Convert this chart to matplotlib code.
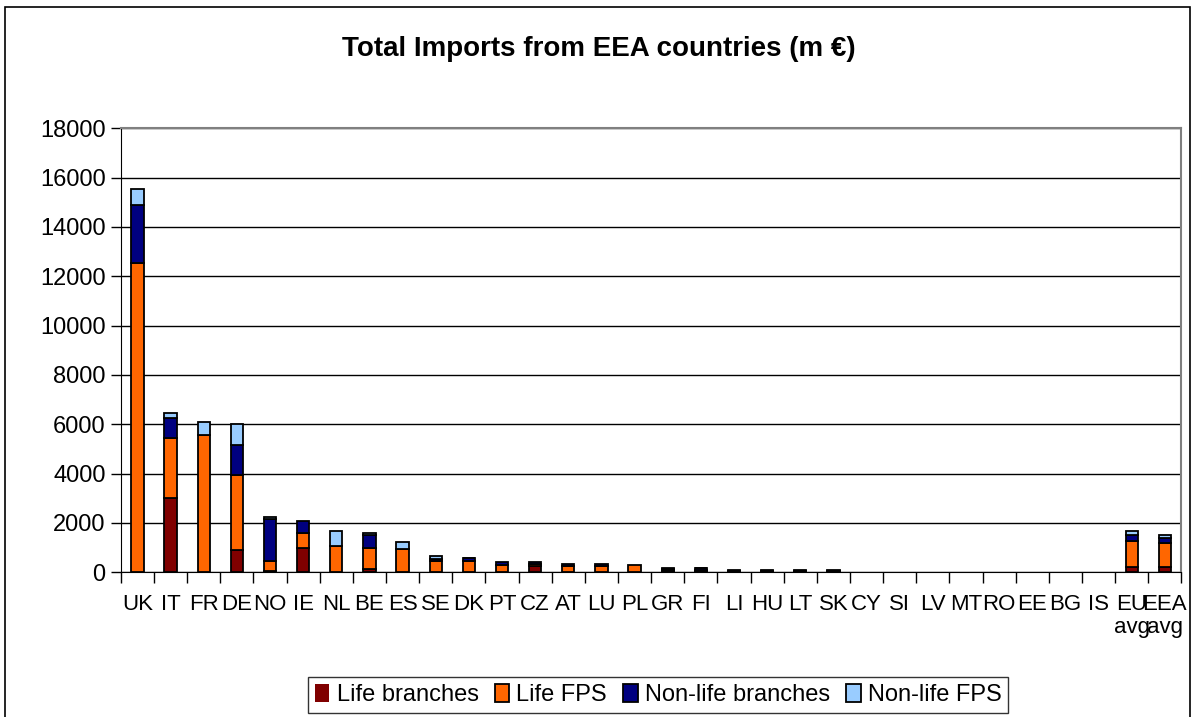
import numpy as np
import matplotlib.pyplot as plt
from matplotlib.patches import Rectangle

plt.rcParams['font.family'] = ['Liberation Sans', 'DejaVu Sans']

countries = ['UK', 'IT', 'FR', 'DE', 'NO', 'IE', 'NL', 'BE', 'ES', 'SE', 'DK', 'PT', 'CZ', 'AT',
             'LU', 'PL', 'GR', 'FI', 'LI', 'HU', 'LT', 'SK', 'CY', 'SI', 'LV', 'MT', 'RO', 'EE',
             'BG', 'IS', 'EU\navg', 'EEA\navg']

life_branches = [0, 3000, 0, 900, 50, 1000, 0, 130, 0, 0, 0, 0, 250, 0,
                 0, 0, 40, 40, 20, 20, 20, 20, 0, 0, 0, 0, 0, 0, 0, 0, 200, 200]
life_fps = [12550, 2450, 5550, 3050, 400, 570, 1050, 850, 930, 470, 470, 310, 80, 250,
            250, 300, 40, 60, 20, 20, 20, 20, 0, 0, 0, 0, 0, 0, 0, 0, 1050, 1000]
nonlife_branches = [2350, 800, 0, 1200, 1700, 510, 0, 520, 0, 50, 100, 100, 80, 100,
                    100, 0, 60, 60, 20, 20, 20, 20, 0, 0, 0, 0, 0, 0, 0, 0, 250, 200]
nonlife_fps = [650, 200, 550, 850, 80, 0, 600, 80, 300, 130, 10, 0, 0, 0,
               0, 0, 10, 15, 10, 10, 10, 10, 0, 0, 0, 0, 0, 0, 0, 0, 150, 120]

series = [('Life branches', life_branches, '#800000'),
          ('Life FPS', life_fps, '#FF6600'),
          ('Non-life branches', nonlife_branches, '#000080'),
          ('Non-life FPS', nonlife_fps, '#99CCFF')]

fig = plt.figure(figsize=(11.97, 7.17), dpi=100)
fig.patches.append(Rectangle((0.004, -0.01), 0.99, 1.0, transform=fig.transFigure,
                             fill=False, edgecolor='black', linewidth=1.2))
ax = fig.add_axes([0.101, 0.202, 0.886, 0.619])

x = np.arange(len(countries))
bottom = np.zeros(len(countries))
for name, vals, color in series:
    vals = np.array(vals, dtype=float)
    # no outline for empty segments
    lw = [1.3 if v > 0 else 0 for v in vals]
    ax.bar(x, vals, width=0.37, bottom=bottom, color=color, edgecolor='black',
           linewidth=lw, label=name, zorder=3)
    bottom += vals

ax.set_xlim(-0.5, len(countries) - 0.5)
ax.set_ylim(0, 18000)
ax.set_yticks(range(0, 18001, 2000))
ax.yaxis.grid(True, color='black', linewidth=1.0, zorder=0)
ax.set_xticks(x)
ax.set_xticklabels(countries, fontsize=16, linespacing=1.1)
ax.set_xticks(np.arange(-0.5, len(countries)), minor=True)
ax.tick_params(axis='x', which='major', length=0, pad=16)
ax.tick_params(axis='x', which='minor', length=8, width=1, direction='out')
ax.tick_params(axis='y', labelsize=17, length=7, width=1, direction='out', pad=4)
for side in ['top', 'right']:
    ax.spines[side].set_color('#808080')
    ax.spines[side].set_linewidth(1.5)
for side in ['left', 'bottom']:
    ax.spines[side].set_color('black')

fig.text(0.5, 0.932, 'Total Imports from EEA countries (m €)', ha='center', va='center',
         fontsize=20, fontweight='bold')

leg = fig.legend(loc='center', bbox_to_anchor=(0.55, 0.031), ncol=4, fontsize=17,
                 frameon=True, fancybox=False, edgecolor='black', handlelength=0.6,
                 handleheight=0.8, handletextpad=0.3, columnspacing=0.7, borderpad=0.3)
leg.get_frame().set_linewidth(1.0)

fig.savefig('out.png', dpi=100)
